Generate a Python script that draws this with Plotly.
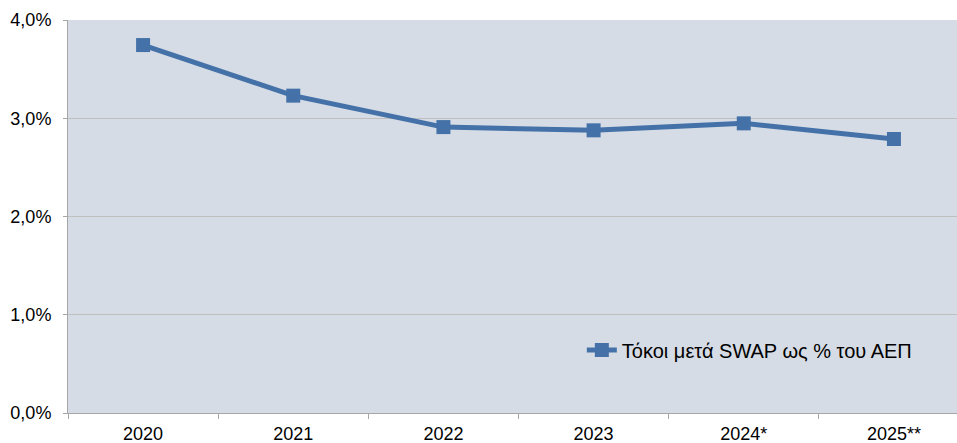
import plotly.graph_objects as go

years = ["2020", "2021", "2022", "2023", "2024*", "2025**"]
values = [3.745, 3.23, 2.91, 2.877, 2.948, 2.789]
series_name = "Τόκοι μετά SWAP ως % του ΑΕΠ"
y_ticks = [0, 1, 2, 3, 4]
y_tick_labels = ["0,0%", "1,0%", "2,0%", "3,0%", "4,0%"]

line_color = "#4472a8"
font = "Liberation Sans, Arial, sans-serif"

fig = go.Figure()
fig.add_trace(go.Scatter(
    x=years, y=values, name=series_name, mode="lines+markers",
    line=dict(color=line_color, width=5),
    marker=dict(symbol="square", size=14, color=line_color),
    showlegend=True,
))

fig.update_layout(
    width=957, height=443,
    autosize=False,
    margin=dict(l=68, r=0, t=20, b=30, autoexpand=False),
    paper_bgcolor="white",
    plot_bgcolor="#d6dce5",
    font=dict(family=font, size=18, color="#000000"),
    showlegend=True,
    legend=dict(
        x=0.578, y=0.16, xanchor="left", yanchor="middle",
        bgcolor="rgba(0,0,0,0)", font=dict(size=20, family=font),
    ),
    xaxis=dict(
        type="category",
        range=[-0.5, 5.42],
        automargin=False,
        showgrid=False,
        showline=True, linecolor="#a6a6a6", linewidth=1,
        ticks="outside", tickson="boundaries", ticklen=5, tickcolor="#a6a6a6",
        tickfont=dict(size=18),
        ticklabelstandoff=4,
        zeroline=False,
    ),
    yaxis=dict(
        range=[0, 4],
        automargin=False,
        tickvals=y_ticks, ticktext=y_tick_labels,
        showgrid=True, gridcolor="#bfbfbf", gridwidth=1,
        showline=True, linecolor="#a6a6a6", linewidth=1,
        ticks="outside", ticklen=4, tickcolor="#a6a6a6",
        tickfont=dict(size=18),
        ticklabelstandoff=8,
        zeroline=False,
    ),
)

fig.write_html("out.html", config={"responsive": False, "displayModeBar": False})

with open("out.html", "r", encoding="utf-8") as f:
    html = f.read()
html = html.replace("<head>", "<head><style>html,body{margin:0;padding:0;overflow:hidden;}</style>", 1)
with open("out.html", "w", encoding="utf-8") as f:
    f.write(html)
